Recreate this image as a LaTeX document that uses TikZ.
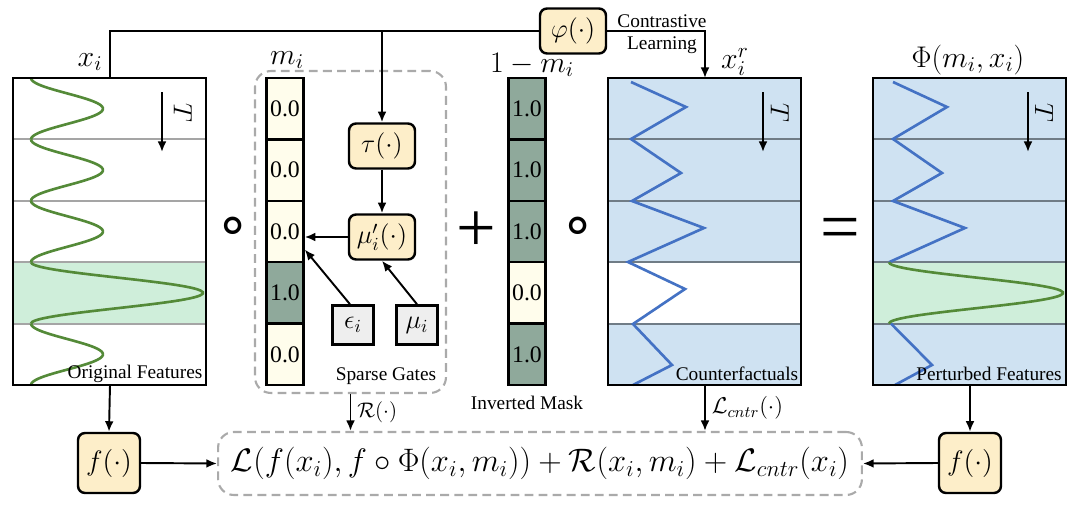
\documentclass[tikz,border=0pt]{standalone}
\usepackage{fix-cm}
\usepackage[no-math]{fontspec}
\setmainfont{Liberation Serif}
\newfontfamily\ringfont{DejaVu Sans}
\usepackage{amsmath}
\usetikzlibrary{arrows.meta}
\definecolor{gatefill}{RGB}{253,238,201}
\definecolor{cellzero}{RGB}{255,253,236}
\definecolor{cellone}{RGB}{143,169,155}
\definecolor{noisefill}{RGB}{238,238,238}
\definecolor{wavegreen}{RGB}{84,138,56}
\definecolor{bandgreen}{RGB}{207,238,218}
\definecolor{cfblue}{RGB}{207,226,242}
\definecolor{zigblue}{RGB}{68,114,196}
\definecolor{rowgray}{RGB}{165,165,165}
\definecolor{rowdark}{RGB}{112,124,134}
\definecolor{dashgray}{RGB}{170,170,170}
\newcommand{\Lcntr}{\mathcal{L}_{cntr}}

\begin{document}
\begin{tikzpicture}[x=0.02cm,y=-0.02cm,>={Latex[length=6pt,width=5pt]},
		conn/.style={line width=1.1pt},
		fn/.style={draw,line width=1.4pt,rounded corners=4pt,fill=gatefill,inner sep=0pt,minimum width=1.32cm,minimum height=0.9cm,font=\fontsize{15}{15}\selectfont},
		noise/.style={draw,line width=1.4pt,fill=noisefill,inner sep=0pt,minimum width=0.82cm,minimum height=0.78cm,font=\fontsize{15}{15}\selectfont},
		cell/.style={draw,line width=1.4pt,inner sep=0pt,minimum width=0.74cm,minimum height=1.228cm,font=\fontsize{13.5}{13.5}\selectfont},
		frame/.style={draw=dashgray,line width=1.2pt,rounded corners=9pt,dash pattern=on 5pt off 3pt},
		lab/.style={font=\fontsize{17}{17}\selectfont},
		capt/.style={font=\fontsize{11}{12}\selectfont},
		oper/.style={font=\fontsize{40}{40}\selectfont,inner sep=0pt},
		ring/.style={font=\ringfont\fontsize{32}{32}\selectfont,inner sep=0pt},
		tmark/.style={font=\fontsize{15}{15}\selectfont,rotate=-90},
		wave/.style={wavegreen,line width=1.5pt},
		zig/.style={zigblue,line width=1.5pt}]
			\useasboundingbox (0,0) rectangle (1080,507);

			\fill[bandgreen] (13,262.2) rectangle (206,323.6);
			\foreach \y in {139.4,200.8,262.2,323.6}
				\draw[rowgray,line width=1.2pt] (13,\y) -- (206,\y);
			\foreach \a [count=\k from 0] in {72,72,72,172,72}
				\draw[wave] plot[domain=0:1,samples=40,smooth] ({31+\a/2*(1-cos(360*\x))},{78+61.4*(\k+\x)});
			\draw[conn,->] (162,92) -- (162,152);
			\node[tmark] (tx) at (183,113) {$T$};
			\draw[line width=1.4pt] (13,78) rectangle (206,385);
			\node[capt] (orig) at (135,374) {Original Features};
			\node[lab] (xlab) at (90,62) {$x_i$};
			\coordinate (xtop) at (110,78);
			\coordinate (xbot) at (110,385);

			\node[frame,minimum width=3.82cm,minimum height=6.44cm] (gates) at (350.5,232) {};
			\foreach \v/\c [count=\k] in {0/cellzero,0/cellzero,0/cellzero,1/cellone,0/cellzero}
				\node[cell,fill=\c] (m\k) at (285,{78+61.4*(\k-0.5)}) {\v.0};
			\node[lab] (mlab) at (287,60) {$m_i$};
			\node[fn] (tau) at (382,146) {$\tau(\cdot)$};
			\node[fn] (mup) at (382,237) {$\mu_i'(\cdot)$};
			\node[noise] (eps) at (353,325) {$\epsilon_i$};
			\node[noise] (mu) at (417,325) {$\mu_i$};
			\node[capt] (sg) at (386,376) {Sparse Gates};
			\draw[conn,->] (tau) -- (mup);
			\draw[conn,->] (mup.west) -- (mup.west -| m3.east);
			\draw[conn,->] ([xshift=-0.06cm]eps.north) -- ([yshift=-0.36cm]m3.east);
			\draw[conn,->] (mu.north) -- (mup.south);

			\foreach \v/\c [count=\k] in {1/cellone,1/cellone,1/cellone,0/cellzero,1/cellone}
				\node[cell,fill=\c] (n\k) at (527,{78+61.4*(\k-0.5)}) {\v.0};
			\node[lab] (nlab) at (532,65) {$1-m_i$};
			\node[capt] (inv) at (527,403) {Inverted Mask};

			\node[ring] (op1) at (233,230) {∘};
			\node[oper] (plus) at (476,232) {+};
			\node[ring] (op2) at (578,230) {∘};
			\node[oper] (eq) at (840,234) {=};

			\fill[cfblue] (608,78) rectangle (801,385);
			\fill[white] (608,262.2) rectangle (801,323.6);
			\foreach \y in {139.4,200.8,262.2,323.6}
				\draw[rowdark,line width=1.2pt] (608,\y) -- (801,\y);
			\draw[zig] (631,82) -- (686,107) -- (631,139) -- (681,173) -- (632,201) -- (704,228) -- (628,262) -- (685,289) -- (633,324) -- (672,365) -- (633,385);
			\draw[conn,->] (763,92) -- (763,152);
			\node[tmark] (tc) at (780,113) {$T$};
			\draw[line width=1.4pt] (608,78) rectangle (801,385);
			\node[capt] (cf) at (737,374) {Counterfactuals};
			\node[lab] (xrlab) at (735,62) {$x_i^r$};
			\coordinate (cftop) at (705,78);
			\coordinate (cfbot) at (705,385);

			\fill[cfblue] (873,78) rectangle (1066,385);
			\fill[bandgreen] (873,262.2) rectangle (1066,323.6);
			\foreach \y in {139.4,200.8,262.2,323.6}
				\draw[rowdark,line width=1.2pt] (873,\y) -- (1066,\y);
			\draw[zig] (893,82) -- (947,107) -- (893,139) -- (942,173) -- (893,201) -- (965,228) -- (889,262.2);
			\draw[wave] plot[domain=0:1,samples=40,smooth] ({889+87*(1-cos(360*\x))},{262.2+61.4*\x});
			\draw[zig] (891,323.6) -- (932,365) -- (895,385);
			\draw[conn,->] (1028,92) -- (1028,152);
			\node[tmark] (tp) at (1044,113) {$T$};
			\draw[line width=1.4pt] (873,78) rectangle (1066,385);
			\node[capt] (pf) at (989,374) {Perturbed Features};
			\node[lab] (plab) at (968,60) {$\Phi(m_i,x_i)$};
			\coordinate (pbot) at (970,385);

			\node[fn] (phi) at (573,31) {$\varphi(\cdot)$};
			\node[capt] (cl1) at (662,21) {Contrastive};
			\node[capt] (cl2) at (662,45) {Learning};
			\draw[conn] (xtop) |- (phi.west);
			\draw[conn,->] (tau.north |- phi.west) -- (tau.north);
			\draw[conn,->] (phi.east) -| (cftop);

			\node[frame,minimum width=12.88cm,minimum height=1.26cm,font=\fontsize{18.5}{18.5}\selectfont] (loss) at (540,463.5) {$\mathcal{L}(f(x_i),f\circ\Phi(x_i,m_i))+\mathcal{R}(x_i,m_i)+\Lcntr(x_i)$};
			\node[fn,minimum width=1.24cm,minimum height=1.2cm,font=\fontsize{16}{16}\selectfont] (fl) at (109,463) {$f(\cdot)$};
			\node[fn,minimum width=1.24cm,minimum height=1.2cm,font=\fontsize{16}{16}\selectfont] (fr) at (970,463) {$f(\cdot)$};
			\draw[conn,->] (xbot) -- (fl.north);
			\draw[conn,->] (fl.east) -- (loss.west);
			\draw[conn,->] (pbot) -- (fr.north);
			\draw[conn,->] (fr.west) -- (loss.east);
			\draw[conn,->] (gates.south) -- (gates.south |- loss.north) node[midway,right,font=\fontsize{12}{12}\selectfont] {$\mathcal{R}(\cdot)$};
			\draw[conn,->] (cfbot) -- (cfbot |- loss.north) node[midway,right,font=\fontsize{13}{13}\selectfont] {$\Lcntr(\cdot)$};
		\end{tikzpicture}
\end{document}
